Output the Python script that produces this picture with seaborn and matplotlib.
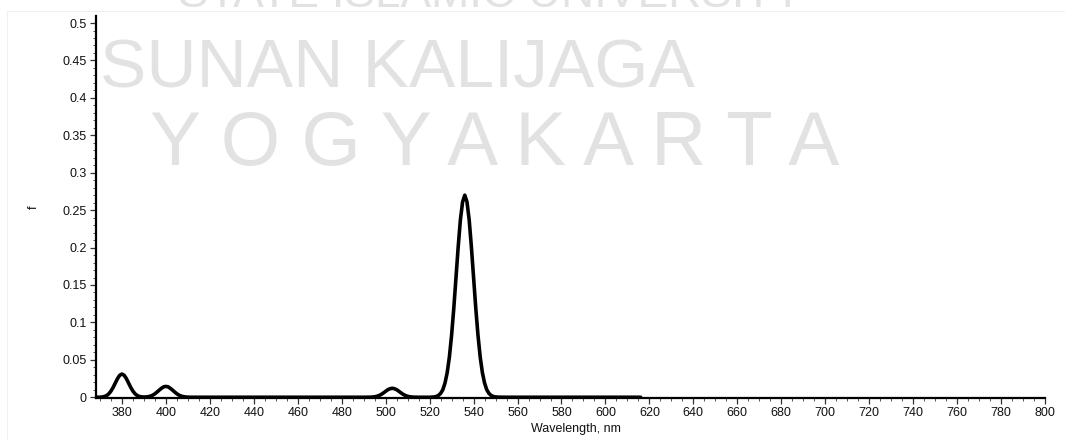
import matplotlib
matplotlib.use('Agg')
import matplotlib.pyplot as plt
import pandas as pd
import seaborn as sns
from matplotlib.ticker import MultipleLocator
from matplotlib.lines import Line2D

# ---- data ----
wavelength = [368, 369, 370, 371, 372, 373, 374, 375, 376, 377, 378, 379, 380,
              381, 382, 383, 384, 385, 386, 387, 388, 389, 390, 391, 392, 393,
              394, 395, 396, 397, 398, 399, 400, 401, 402, 403, 404, 405, 406,
              407, 408, 409, 410, 412, 420, 440, 460, 480, 490, 493, 494, 495,
              496, 497, 498, 499, 500, 501, 502, 503, 504, 505, 506, 507, 508,
              509, 510, 511, 512, 513, 515, 520, 521, 522, 523, 524, 525, 526,
              527, 528, 529, 530, 531, 532, 533, 534, 535, 536, 537, 538, 539,
              540, 541, 542, 543, 544, 545, 546, 547, 548, 549, 550, 551, 552,
              555, 560, 580, 600, 616]
f_values = [0.0, 0.0, 0.0001, 0.0004, 0.0010, 0.0022, 0.0045, 0.0082, 0.0132,
            0.0191, 0.0250, 0.0294, 0.0310, 0.0294, 0.0250, 0.0191, 0.0132,
            0.0082, 0.0045, 0.0022, 0.0010, 0.0005, 0.0003, 0.0004, 0.0008,
            0.0015, 0.0028, 0.0046, 0.0070, 0.0096, 0.0120, 0.0139, 0.0145,
            0.0139, 0.0120, 0.0096, 0.0070, 0.0046, 0.0028, 0.0015, 0.0008,
            0.0004, 0.0001, 0.0, 0.0, 0.0, 0.0, 0.0, 0.0, 0.0001, 0.0003,
            0.0006, 0.0013, 0.0023, 0.0038, 0.0058, 0.0080, 0.0101, 0.0114,
            0.0120, 0.0114, 0.0101, 0.0080, 0.0058, 0.0038, 0.0023, 0.0013,
            0.0006, 0.0003, 0.0001, 0.0, 0.0, 0.0002, 0.0004, 0.0010, 0.0024,
            0.0051, 0.010, 0.019, 0.033, 0.054, 0.083, 0.119, 0.160, 0.201,
            0.237, 0.261, 0.270, 0.261, 0.237, 0.201, 0.160, 0.119, 0.083,
            0.054, 0.033, 0.019, 0.010, 0.0051, 0.0024, 0.0010, 0.0004, 0.0002,
            0.0001, 0.0, 0.0, 0.0, 0.0, 0.0]

x_ticks = [380, 400, 420, 440, 460, 480, 500, 520, 540, 560, 580, 600, 620,
           640, 660, 680, 700, 720, 740, 760, 780, 800]
y_ticks = [0, 0.05, 0.1, 0.15, 0.2, 0.25, 0.3, 0.35, 0.4, 0.45, 0.5]
y_tick_labels = ['0', '0.05', '0.1', '0.15', '0.2', '0.25', '0.3', '0.35',
                 '0.4', '0.45', '0.5']
x_label = 'Wavelength, nm'
y_label = 'f'
watermark_top = 'STATE ISLAMIC UNIVERSITY'
watermark_mid = 'SUNAN KALIJAGA'
watermark_bot = 'Y O G Y A K A R T A'

# ---- styling ----
sns.set_theme(style='ticks')
plt.rcParams['font.family'] = ['Liberation Sans', 'DejaVu Sans']

W, H = 1065, 440
fig = plt.figure(figsize=(W / 100, H / 100), dpi=100)
fig.patch.set_facecolor('white')

# faint page border
fig.add_artist(Line2D([7 / W, 1], [1 - 11 / H, 1 - 11 / H], color='#f0f0f0', lw=0.8, transform=fig.transFigure))
fig.add_artist(Line2D([7 / W, 7 / W], [0, 1 - 11 / H], color='#f0f0f0', lw=0.8, transform=fig.transFigure))

# watermark
wm_col = '#e2e2e2'
wm_font = ['Liberation Sans', 'DejaVu Sans']
fig.text(490 / W, 1 - 7 / H, watermark_top, ha='center', va='baseline',
         fontsize=33, color=wm_col, family=wm_font, zorder=0)
fig.text(397 / W, 1 - 88 / H, watermark_mid, ha='center', va='baseline',
         fontsize=50, color=wm_col, family=wm_font, zorder=0)
fig.text(495 / W, 1 - 165 / H, watermark_bot, ha='center', va='baseline',
         fontsize=55, color=wm_col, family=wm_font, zorder=0)

ax = fig.add_axes([96 / W, 1 - 398 / H, (1045 - 96) / W, (398 - 16) / H])
ax.patch.set_alpha(0)

df = pd.DataFrame({'Wavelength': wavelength, 'f': f_values})
sns.lineplot(data=df, x='Wavelength', y='f', ax=ax, color='black',
             linewidth=2.6, zorder=5)

ax.set_xlim(368.2, 800)
ax.set_ylim(-0.001, 0.5094)

ax.set_xticks(x_ticks)
ax.set_xticklabels([str(v) for v in x_ticks])
ax.set_yticks(y_ticks)
ax.set_yticklabels(y_tick_labels)
ax.xaxis.set_minor_locator(MultipleLocator(5))
ax.yaxis.set_minor_locator(MultipleLocator(0.01))

for side in ['top', 'right']:
    ax.spines[side].set_visible(False)
for side in ['left', 'bottom']:
    ax.spines[side].set_color('black')
    ax.spines[side].set_linewidth(1.6)

ax.tick_params(axis='both', which='major', direction='out', length=4, width=0.9,
               color='#333333', labelsize=9, labelcolor='#111111', pad=2.5)
ax.tick_params(axis='both', which='minor', direction='out', length=2.5,
               width=0.7, color='#555555')

ax.set_xlabel(x_label, fontsize=9, color='#111111')
ax.set_ylabel(y_label, fontsize=9, color='#111111')
ax.xaxis.set_label_coords((576 - 96) / (1045 - 96), -(423 - 398) / (398 - 16))
ax.yaxis.set_label_coords(-(96 - 40) / (1045 - 96), (398 - 207) / (398 - 16))
ax.grid(False)

fig.savefig('out.png', dpi=100, facecolor='white')
